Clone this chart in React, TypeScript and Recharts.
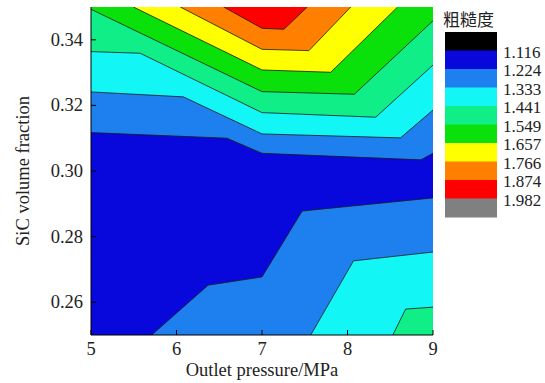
import React from 'react';
import { ComposedChart, Area, XAxis, YAxis } from 'recharts';

// ---- data ----
const xTicks = [5, 6, 7, 8, 9];
const yTicks = [0.26, 0.28, 0.3, 0.32, 0.34];
const legendTitle = '粗糙度';
const levelLabels = ['1.116', '1.224', '1.333', '1.441', '1.549', '1.657', '1.766', '1.874', '1.982'];
const bandColors = ['#000000', '#0808dc', '#1e80ee', '#12f6f6', '#10ee88', '#0ae00a', '#ffff00', '#ff8000', '#ff0000', '#808080'];

// band 1.116-1.224 covers the whole field underneath
const darkBlueField = [
  { x: 5, y: 0.35 },
  { x: 9, y: 0.35 },
];
// lower-right regions (filled from bottom up to the contour)
const midBlueLower = [
  { x: 5.71, y: 0.25 },
  { x: 6.37, y: 0.2652 },
  { x: 7.0, y: 0.2677 },
  { x: 7.47, y: 0.2878 },
  { x: 9.0, y: 0.2918 },
];
const cyanLower = [
  { x: 7.57, y: 0.25 },
  { x: 8.07, y: 0.2726 },
  { x: 9.0, y: 0.2753 },
];
const seaGreenLower = [
  { x: 8.53, y: 0.25 },
  { x: 8.68, y: 0.2579 },
  { x: 9.0, y: 0.2585 },
];
// upper regions (filled from contour up to the top)
const midBlueUpper = [
  { x: 5.0, y: 0.3117 },
  { x: 6.59, y: 0.31 },
  { x: 7.0, y: 0.3054 },
  { x: 8.86, y: 0.3034 },
  { x: 9.0, y: 0.3054 },
];
const cyanUpper = [
  { x: 5.0, y: 0.3241 },
  { x: 6.08, y: 0.3226 },
  { x: 7.0, y: 0.3113 },
  { x: 8.62, y: 0.3101 },
  { x: 9.0, y: 0.3186 },
];
const seaGreenUpper = [
  { x: 5.0, y: 0.3364 },
  { x: 5.575, y: 0.3359 },
  { x: 7.0, y: 0.3178 },
  { x: 8.33, y: 0.3164 },
  { x: 9.0, y: 0.3323 },
];
const greenUpper = [
  { x: 5.0, y: 0.3493 },
  { x: 7.0, y: 0.3242 },
  { x: 8.08, y: 0.3234 },
  { x: 9.0, y: 0.3458 },
];
const yellowUpper = [
  { x: 5.496, y: 0.35 },
  { x: 7.0, y: 0.3308 },
  { x: 7.804, y: 0.3301 },
  { x: 8.586, y: 0.35 },
];
const orangeUpper = [
  { x: 6.044, y: 0.35 },
  { x: 7.0, y: 0.3371 },
  { x: 7.549, y: 0.3367 },
  { x: 8.038, y: 0.35 },
];
const redUpper = [
  { x: 6.552, y: 0.35 },
  { x: 7.0, y: 0.3435 },
  { x: 7.256, y: 0.3432 },
  { x: 7.53, y: 0.35 },
];

const SERIF = "'Liberation Serif', 'Times New Roman', serif";
const CJK = "'Noto Sans CJK SC', sans-serif";
const LINE = '#1a1a1a';
const TEXT = '#222';
const TICK_FS = 18.5;

const lowerBands = [
  { data: midBlueLower, color: bandColors[2] },
  { data: cyanLower, color: bandColors[3] },
  { data: seaGreenLower, color: bandColors[4] },
];
const upperBands = [
  { data: midBlueUpper, color: bandColors[2] },
  { data: cyanUpper, color: bandColors[3] },
  { data: seaGreenUpper, color: bandColors[4] },
  { data: greenUpper, color: bandColors[5] },
  { data: yellowUpper, color: bandColors[6] },
  { data: orangeUpper, color: bandColors[7] },
  { data: redUpper, color: bandColors[8] },
];

const XTick = (props: any) => {
  const { x, y, payload } = props;
  return (
    <text x={x} y={y + 14} textAnchor="middle" fill={TEXT} style={{ fontFamily: SERIF, fontSize: TICK_FS }}>
      {String(payload.value)}
    </text>
  );
};

const YTick = (props: any) => {
  const { x, y, payload } = props;
  return (
    <text x={x} y={y + 6} textAnchor="end" fill={TEXT} style={{ fontFamily: SERIF, fontSize: TICK_FS }}>
      {Number(payload.value).toFixed(2)}
    </text>
  );
};

const Legend = () => {
  const x0 = 445;
  const y0 = 32;
  const w = 52;
  const h = 18.5;
  return (
    <svg width={545} height={383} style={{ position: 'absolute', left: 0, top: 0, pointerEvents: 'none' }}>
      <text x={x0 - 2} y={26} fill={TEXT} style={{ fontSize: 17, fontFamily: CJK }}>
        {legendTitle}
      </text>
      {bandColors.map((c, i) => (
        <rect key={i} x={x0} y={y0 + i * h} width={w} height={h + 0.5} fill={c} />
      ))}
      {levelLabels.map((l, i) => (
        <text
          key={l}
          x={x0 + w + 6}
          y={y0 + (i + 1) * h + 1.5}
          dominantBaseline="central"
          fill={TEXT}
          style={{ fontSize: 17, fontFamily: SERIF }}
        >
          {l}
        </text>
      ))}
    </svg>
  );
};

export default function App() {
  return (
    <div style={{ position: 'absolute', left: 0, top: 0, width: 545, height: 383, background: '#fff', fontFamily: SERIF }}>
      <ComposedChart width={545} height={383} margin={{ top: 7, right: 112, bottom: 0, left: 0 }}>
        <XAxis
          xAxisId={0}
          type="number"
          dataKey="x"
          domain={[5, 9]}
          ticks={xTicks}
          allowDataOverflow
          height={48}
          tickSize={-5}
          tickMargin={11}
          axisLine={{ stroke: '#000' }}
          tickLine={{ stroke: '#000' }}
          tick={<XTick />}
          label={{ value: 'Outlet pressure/MPa', position: 'insideBottom', offset: 7, style: { fontSize: 18.5, fontFamily: SERIF, fill: TEXT } }}
        />
        <XAxis xAxisId="top" orientation="top" type="number" dataKey="x" domain={[5, 9]} height={0} tick={false} tickLine={false} axisLine={{ stroke: '#000' }} />
        <YAxis
          yAxisId={0}
          type="number"
          dataKey="y"
          domain={[0.25, 0.35]}
          ticks={yTicks}
          allowDataOverflow
          width={91}
          tickSize={-5}
          tickMargin={13}
          axisLine={{ stroke: '#000' }}
          tickLine={{ stroke: '#000' }}
          tick={<YTick />}
          label={{ value: 'SiC volume fraction', angle: -90, position: 'center', dx: -23, style: { fontSize: 18.5, fontFamily: SERIF, fill: TEXT, textAnchor: 'middle' } }}
        />
        <YAxis yAxisId="right" orientation="right" type="number" domain={[0.25, 0.35]} width={0} tick={false} tickLine={false} axisLine={{ stroke: '#000' }} />
        <Area
          data={darkBlueField}
          dataKey="y"
          type="linear"
          baseValue="dataMin"
          fill={bandColors[1]}
          fillOpacity={1}
          stroke="none"
          dot={false}
          activeDot={false}
          isAnimationActive={false}
        />
        {lowerBands.map((b, i) => (
          <Area
            key={'l' + i}
            data={b.data}
            dataKey="y"
            type="linear"
            baseValue="dataMin"
            fill={b.color}
            fillOpacity={1}
            stroke={LINE}
            strokeWidth={0.8}
            dot={false}
            activeDot={false}
            isAnimationActive={false}
          />
        ))}
        {upperBands.map((b, i) => (
          <Area
            key={'u' + i}
            data={b.data}
            dataKey="y"
            type="linear"
            baseValue="dataMax"
            fill={b.color}
            fillOpacity={1}
            stroke={LINE}
            strokeWidth={0.8}
            dot={false}
            activeDot={false}
            isAnimationActive={false}
          />
        ))}
      </ComposedChart>
      <Legend />
    </div>
  );
}
